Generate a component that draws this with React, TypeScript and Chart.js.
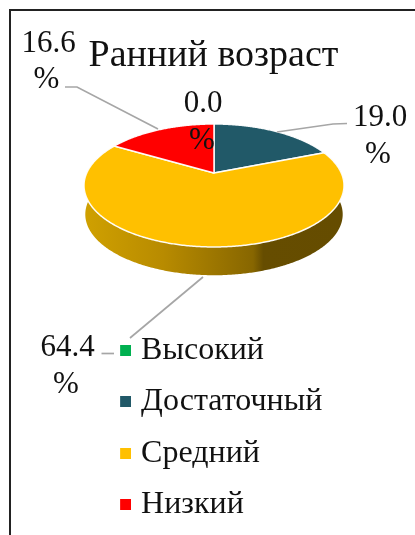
import React, { useEffect, useRef } from "react";
import { Chart, registerables } from "chart.js";

Chart.register(...registerables);

const categories = ["Высокий", "Достаточный", "Средний", "Низкий"];
const values = [0.0, 19.0, 64.4, 16.6];
const colors = ["#00B050", "#215968", "#FFC000", "#FF0000"];
const titleText = "Ранний возраст";

const FONT = "'Liberation Serif'";
const INK = "#111111";
const LEADER = "#A6A6A6";

// projection of the pie's disc
const P = { cx: 214, cy: 173, a: 127.3, b: 58.96, k: -0.203, depth: 29 };

// label anchors and leader lines, per category
const labelLayout = [
  { x: 203, y: 104, px: 202, py: 141, leader: [] as number[][][] },
  { x: 380, y: 118, px: 378, py: 155, leader: [[[347, 123.5], [333, 124], [277, 132]]] },
  { x: 67.5, y: 348, px: 66, py: 385, leader: [[[101.5, 353.5], [114, 353.5]], [[130, 338], [203, 277]]] },
  { x: 48.5, y: 44, px: 46.5, py: 80, leader: [[[65, 87], [77, 87], [158, 129]]] },
];

function project(theta: number, shift = 0, scale = 1) {
  const u = Math.sin(theta);
  const v = -Math.cos(theta);
  const w = 1 + P.k * v;
  return {
    x: P.cx + (scale * P.a * u) / w,
    y: P.cy + (scale * P.b * v) / w + shift,
  };
}

function tracePerimeter(ctx: CanvasRenderingContext2D, from: number, to: number, shift = 0, scale = 1) {
  const steps = Math.max(2, Math.ceil(Math.abs(to - from) / 0.01));
  for (let i = 0; i <= steps; i++) {
    const p = project(from + ((to - from) * i) / steps, shift, scale);
    ctx.lineTo(p.x, p.y);
  }
}

const perspectivePie = {
  id: "perspectivePie",
  beforeDatasetDraw(chart: any) {
    const ctx: CanvasRenderingContext2D = chart.ctx;
    const arcs = chart.getDatasetMeta(0).data;
    // chart.js arc angles start at 3 o'clock; the disc's theta starts at 12 o'clock
    const angle = (a: number) => a + Math.PI / 2;
    ctx.save();
    arcs.forEach((arc: any) => {
      const start = angle(arc.startAngle);
      const end = angle(arc.endAngle);
      if (end - start < 1e-4) return;
      if (start < Math.PI / 2 && end > Math.PI) {
        const g = ctx.createLinearGradient(86, 0, 343, 0);
        g.addColorStop(0, "#CFA000");
        g.addColorStop(0.3, "#B88B00");
        g.addColorStop(0.65, "#876600");
        g.addColorStop(0.69, "#664D00");
        g.addColorStop(1, "#654C00");
        ctx.beginPath();
        tracePerimeter(ctx, start, end);
        tracePerimeter(ctx, end, start, P.depth, 0.99);
        ctx.closePath();
        ctx.fillStyle = g;
        ctx.fill();
      }
    });
    arcs.forEach((arc: any, i: number) => {
      const start = angle(arc.startAngle);
      const end = angle(arc.endAngle);
      if (end - start < 1e-4) return;
      ctx.beginPath();
      ctx.moveTo(P.cx, P.cy);
      tracePerimeter(ctx, start, end);
      ctx.closePath();
      ctx.fillStyle = colors[i];
      ctx.fill();
      ctx.strokeStyle = "rgba(255,255,255,0.95)";
      ctx.lineWidth = 1.5;
      ctx.lineJoin = "round";
      ctx.stroke();
    });
    ctx.restore();
    return false;
  },
  afterDatasetsDraw(chart: any) {
    const ctx: CanvasRenderingContext2D = chart.ctx;
    ctx.save();
    ctx.strokeStyle = LEADER;
    ctx.lineWidth = 1.7;
    labelLayout.forEach((l) => {
      l.leader.forEach((part) => {
        ctx.beginPath();
        part.forEach(([x, y], j) => (j ? ctx.lineTo(x, y) : ctx.moveTo(x, y)));
        ctx.stroke();
      });
    });
    ctx.fillStyle = INK;
    ctx.font = `31px ${FONT}`;
    ctx.textAlign = "center";
    ctx.textBaseline = "middle";
    values.forEach((v, i) => {
      const l = labelLayout[i];
      ctx.fillText(v.toFixed(1), l.x, l.y);
      ctx.fillText("%", l.px, l.py);
    });
    ctx.restore();
  },
};

const legendPlacement = {
  id: "legendPlacement",
  afterLayout(chart: any) {
    const lg = chart.legend;
    lg.left = 104.5;
    lg.right = 415;
    lg.top = 314.5;
    lg.bottom = 640;
  },
};

function swatch(color: string) {
  const c = document.createElement("canvas");
  c.width = 13;
  c.height = 11;
  const x = c.getContext("2d")!;
  x.fillStyle = color;
  x.fillRect(2, 0, 11, 11);
  return c;
}

export default function App() {
  const ref = useRef<HTMLCanvasElement>(null);
  useEffect(() => {
    const chart = new Chart(ref.current!, {
      type: "pie",
      data: {
        labels: categories,
        datasets: [{ data: values, backgroundColor: colors, borderWidth: 0 }],
      },
      options: {
        animation: false,
        responsive: false,
        layout: { padding: { top: 33, left: 12 } },
        plugins: {
          title: {
            display: true,
            text: titleText,
            color: INK,
            font: { family: FONT, size: 38, weight: "normal" },
            padding: 0,
            position: "top",
            align: "center",
          },
          tooltip: { enabled: false },
          legend: {
            display: true,
            position: "left",
            align: "start",
            labels: {
              color: INK,
              font: { family: FONT, size: 32 },
              usePointStyle: true,
              pointStyleWidth: 1,
              padding: 19.6,
              generateLabels: () =>
                categories.map((text, i) => ({
                  text,
                  index: i,
                  fontColor: INK,
                  hidden: false,
                  lineWidth: 0,
                  pointStyle: swatch(colors[i]),
                })),
            },
          },
        },
      } as any,
      plugins: [perspectivePie, legendPlacement],
    });
    return () => chart.destroy();
  }, []);
  return (
    <div style={{ position: "absolute", left: 0, top: 0, width: 415, height: 535, background: "#fff", overflow: "hidden" }}>
      <canvas ref={ref} width={415} height={535} style={{ display: "block" }} />
      <div
        style={{
          position: "absolute",
          left: 9,
          top: 9,
          right: -4,
          bottom: -4,
          borderLeft: "2px solid #222",
          borderTop: "2px solid #222",
        }}
      />
    </div>
  );
}
